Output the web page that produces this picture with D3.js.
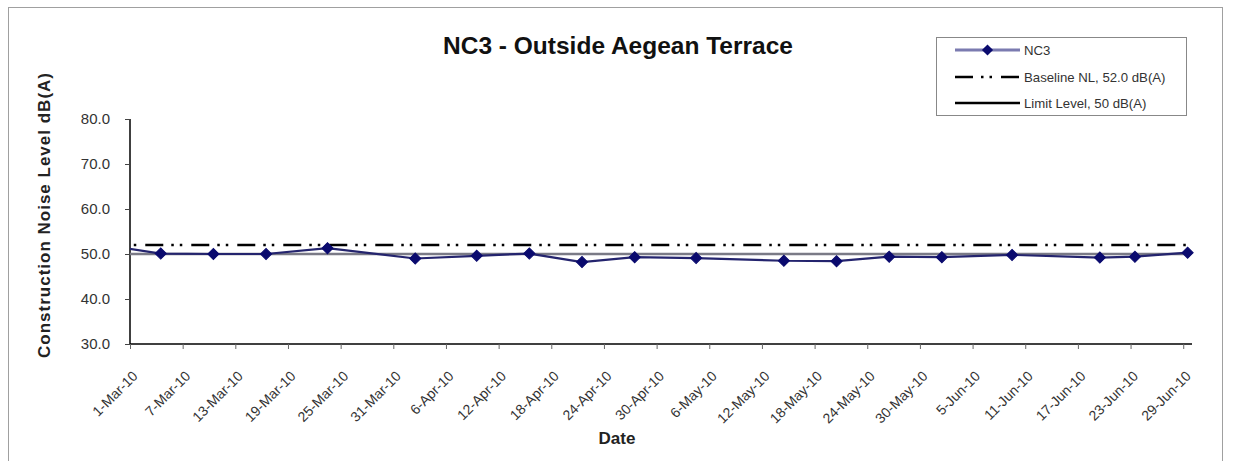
<!DOCTYPE html>
<html>
<head>
<meta charset="utf-8">
<script src="https://cdn.jsdelivr.net/npm/d3@7"></script>
<style>
  html, body { margin: 0; padding: 0; background: #fff; }
  svg { display: block; font-family: "Liberation Sans", Arial, sans-serif; }
</style>
</head>
<body>
<svg id="chart" width="1233" height="461"></svg>
<script>
// ---- Data ----
const titleText = "NC3 - Outside Aegean Terrace";
const yAxisTitle = "Construction Noise Level  dB(A)";
const xAxisTitle = "Date";
const seriesName = "NC3";
const baselineName = "Baseline NL, 52.0 dB(A)";
const limitName = "Limit Level, 50 dB(A)";

// NC3 measurement dates and levels (first one lies before the axis start and is clipped)
const nc3Dates = ["2010-02-25","2010-03-04","2010-03-10","2010-03-16","2010-03-23","2010-04-02",
  "2010-04-09","2010-04-15","2010-04-21","2010-04-27","2010-05-04","2010-05-14","2010-05-20",
  "2010-05-26","2010-06-01","2010-06-09","2010-06-19","2010-06-23","2010-06-29"];
const nc3Values = [52.2,50.1,50.0,50.0,51.3,49.0,49.6,50.1,48.2,49.3,49.1,48.5,48.4,
  49.4,49.3,49.8,49.2,49.4,50.3];
const baselineValue = 52.0;
const limitValue = 50.0;

const xDomain = ["2010-03-01","2010-06-30"];
const xTickDates = ["2010-03-01","2010-03-07","2010-03-13","2010-03-19","2010-03-25","2010-03-31",
  "2010-04-06","2010-04-12","2010-04-18","2010-04-24","2010-04-30","2010-05-06","2010-05-12",
  "2010-05-18","2010-05-24","2010-05-30","2010-06-05","2010-06-11","2010-06-17","2010-06-23","2010-06-29"];
const yDomain = [30, 80];
const yTicks = [30, 40, 50, 60, 70, 80];

// ---- Setup ----
const parse = d3.utcParse("%Y-%m-%d");
const fmtX = d3.utcFormat("%-d-%b-%y");
const svg = d3.select("#chart");

const plot = { left: 130, right: 1192, top: 119, bottom: 344 };

const x = d3.scaleUtc().domain(xDomain.map(parse)).range([plot.left, plot.right]);
const y = d3.scaleLinear().domain(yDomain).range([plot.bottom, plot.top]);
const halfDay = 12 * 3600 * 1000;
const xPt = d => x(new Date(d.getTime() + halfDay));

const nc3 = nc3Dates.map((d, i) => ({ date: parse(d), value: nc3Values[i] }));

// outer border
svg.append("rect").attr("x", 8.5).attr("y", 7.5).attr("width", 1214).attr("height", 470)
  .attr("fill", "#fff").attr("stroke", "#a0a0a0").attr("stroke-width", 1);

// clip
svg.append("defs").append("clipPath").attr("id", "clip")
  .append("rect").attr("x", plot.left).attr("y", plot.top - 10)
  .attr("width", plot.right - plot.left + 10).attr("height", plot.bottom - plot.top + 10);

// title
svg.append("text").attr("x", 618).attr("y", 54).attr("text-anchor", "middle")
  .attr("font-size", 24.5).attr("font-weight", "bold").attr("fill", "#111").text(titleText);

// y axis
const yAxis = d3.axisLeft(y).tickValues(yTicks).tickFormat(d3.format(".1f")).tickSize(5).tickPadding(15);
const gy = svg.append("g").attr("transform", `translate(${plot.left},0)`).call(yAxis);
gy.select(".domain").attr("stroke", "#000").attr("stroke-width", 1.5).attr("d", `M0,${plot.top}V${plot.bottom}`);
gy.selectAll(".tick line").attr("stroke", "#444");
gy.selectAll(".tick text").attr("font-size", 15).attr("fill", "#333")
  .attr("font-family", "'Liberation Sans', Arial, sans-serif");

// x axis
const xAxis = d3.axisBottom(x).tickValues(xTickDates.map(parse)).tickFormat(fmtX).tickSize(5).tickPadding(0);
const gx = svg.append("g").attr("transform", `translate(0,${plot.bottom})`).call(xAxis);
gx.select(".domain").attr("stroke", "#000").attr("stroke-width", 1.5).attr("d", `M${plot.left},0H${plot.right}`);
gx.selectAll(".tick line").attr("stroke", "#666");
gx.selectAll(".tick text").attr("font-size", 14).attr("fill", "#333")
  .attr("font-family", "'Liberation Sans', Arial, sans-serif")
  .attr("text-anchor", "end").attr("dy", null)
  .attr("transform", "translate(8,33) rotate(-45)").attr("y", 0).attr("x", 0);

// axis titles
svg.append("text").attr("transform", "translate(50,215) rotate(-90)").attr("text-anchor", "middle")
  .attr("font-size", 17).attr("font-weight", "bold").attr("letter-spacing", 1).attr("fill", "#222")
  .text(yAxisTitle);
svg.append("text").attr("x", 617).attr("y", 444).attr("text-anchor", "middle")
  .attr("font-size", 17).attr("font-weight", "bold").attr("fill", "#222").text(xAxisTitle);

// lines
const gPlot = svg.append("g").attr("clip-path", "url(#clip)");
const lineGen = d3.line().x(d => xPt(d.date)).y(d => y(d.value));
const spanDates = [nc3[0].date, nc3[nc3.length - 1].date];

gPlot.append("path").datum(spanDates.map(d => ({ date: d, value: limitValue })))
  .attr("d", lineGen).attr("fill", "none").attr("stroke", "#7a7a86").attr("stroke-width", 2.5);
gPlot.append("path").datum(spanDates.map(d => ({ date: d, value: baselineValue })))
  .attr("d", lineGen).attr("fill", "none").attr("stroke", "#000").attr("stroke-width", 2.5)
  .attr("stroke-dasharray", "18,8,2.5,6,2.5,9");
gPlot.append("path").datum(nc3).attr("d", lineGen).attr("fill", "none")
  .attr("stroke", "#24246e").attr("stroke-width", 2.2);

const diamond = d3.symbol().type(d3.symbolSquare).size(62);
gPlot.selectAll("path.mk").data(nc3).join("path").attr("class", "mk")
  .attr("d", diamond)
  .attr("transform", d => `translate(${xPt(d.date)},${y(d.value)}) rotate(45)`)
  .attr("fill", "#0a0a6e").attr("stroke", "#0a0a6e").attr("stroke-width", 1);

// legend
const lg = svg.append("g");
lg.append("rect").attr("x", 936.5).attr("y", 37.5).attr("width", 250).attr("height", 78)
  .attr("fill", "#fff").attr("stroke", "#888").attr("stroke-width", 1);
const legendItems = [
  { name: seriesName, y: 50, kind: "series" },
  { name: baselineName, y: 77, kind: "baseline" },
  { name: limitName, y: 103, kind: "limit" }
];
legendItems.forEach(it => {
  const ln = lg.append("line").attr("x1", 955).attr("x2", 1020).attr("y1", it.y).attr("y2", it.y);
  if (it.kind === "series") {
    ln.attr("stroke", "#7b7bb0").attr("stroke-width", 3);
    lg.append("path").attr("d", diamond).attr("transform", `translate(987.5,${it.y}) rotate(45)`)
      .attr("fill", "#0a0a6e");
  } else if (it.kind === "baseline") {
    ln.attr("stroke", "#000").attr("stroke-width", 2.5).attr("stroke-dasharray", "18,8,2.5,6,2.5,9");
  } else {
    ln.attr("stroke", "#000").attr("stroke-width", 2.5);
  }
  lg.append("text").attr("x", 1024).attr("y", it.y + 4.5).attr("font-size", 13.2).attr("fill", "#333")
    .text(it.name);
});
</script>
</body>
</html>
